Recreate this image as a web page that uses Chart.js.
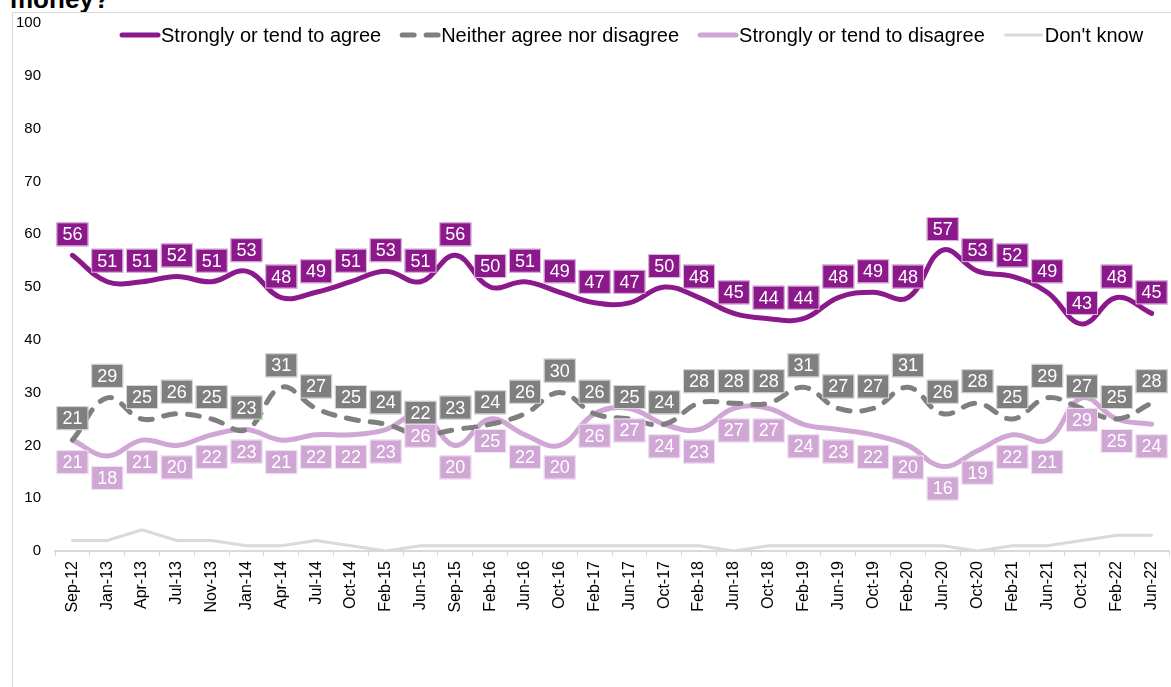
<!DOCTYPE html>
<html><head><meta charset="utf-8">
<script src="https://cdn.jsdelivr.net/npm/chart.js@4.4.1/dist/chart.umd.min.js"></script>
<style>
html,body{margin:0;padding:0;background:#fff;width:1171px;height:687px;overflow:hidden;}
#title{position:absolute;left:10px;top:-14px;font:bold 26px "Liberation Sans",Arial,sans-serif;line-height:26px;white-space:nowrap;color:#000;}
#frame{position:absolute;left:12px;top:12px;width:1200px;height:700px;border:1px solid #d9d9d9;}
#wrap{position:absolute;left:0;top:0;width:1171px;height:687px;}
</style></head>
<body>
<div id="title">money?</div>
<div id="frame"></div>
<div id="wrap"><canvas id="c" width="1171" height="687"></canvas></div>
<script>
const categories = ['Sep-12','Jan-13','Apr-13','Jul-13','Nov-13','Jan-14','Apr-14','Jul-14','Oct-14','Feb-15','Jun-15','Sep-15','Feb-16','Jun-16','Oct-16','Feb-17','Jun-17','Oct-17','Feb-18','Jun-18','Oct-18','Feb-19','Jun-19','Oct-19','Feb-20','Jun-20','Oct-20','Feb-21','Jun-21','Oct-21','Feb-22','Jun-22'];
const agree    = [56,51,51,52,51,53,48,49,51,53,51,56,50,51,49,47,47,50,48,45,44,44,48,49,48,57,53,52,49,43,48,45];
const neither  = [21,29,25,26,25,23,31,27,25,24,22,23,24,26,30,26,25,24,28,28,28,31,27,27,31,26,28,25,29,27,25,28];
const disagree = [21,18,21,20,22,23,21,22,22,23,26,20,25,22,20,26,27,24,23,27,27,24,23,22,20,16,19,22,21,29,25,24];
const dontKnow = [2,2,4,2,2,1,1,2,1,0,1,1,1,1,1,1,1,1,1,0,1,1,1,1,1,1,0,1,1,2,3,3];
const seriesNames = ['Strongly or tend to agree','Neither agree nor disagree','Strongly or tend to disagree',"Don't know"];
const yMin = 0, yMax = 100, yStep = 10;

const FONT = '"Liberation Sans", Arial, sans-serif';
const C_AGREE = '#8c198c', C_NEITHER = '#7f7f7f', C_DIS = '#cfa6d4', C_DK = '#d9d9d9';

const boxLabels = {
  id: 'boxLabels',
  afterDatasetsDraw(chart) {
    const ctx = chart.ctx;
    chart.data.datasets.forEach((ds, di) => {
      if (!ds.boxLabel) return;
      const meta = chart.getDatasetMeta(di);
      ctx.save();
      ctx.font = '18px ' + FONT;
      ctx.textAlign = 'center';
      ctx.textBaseline = 'middle';
      meta.data.forEach((pt, i) => {
        const txt = String(ds.data[i]);
        const w = ctx.measureText(txt).width + 12;
        const h = 24;
        const cx = pt.x, cy = pt.y + ds.boxLabel.dy;
        ctx.fillStyle = ds.boxLabel.bg;
        ctx.fillRect(cx - w / 2, cy - h / 2, w, h);
        ctx.lineWidth = 1;
        ctx.strokeStyle = 'rgba(255,255,255,0.7)';
        ctx.strokeRect(cx - w / 2 + 0.5, cy - h / 2 + 0.5, w - 1, h - 1);
        ctx.fillStyle = '#fff';
        ctx.fillText(txt, cx, cy + 1);
      });
      ctx.restore();
    });
  }
};

const lineLegend = {
  id: 'lineLegend',
  afterDraw(chart) {
    const ctx = chart.ctx;
    ctx.save();
    ctx.font = '20px ' + FONT;
    ctx.textBaseline = 'middle';
    ctx.textAlign = 'left';
    let x = 119;
    const y = 35;
    chart.data.datasets.forEach(ds => {
      ctx.beginPath();
      ctx.setLineDash(ds.borderDash || []);
      ctx.lineWidth = ds.borderWidth;
      ctx.strokeStyle = ds.borderColor;
      ctx.lineCap = 'round';
      ctx.moveTo(x + 3, y);
      ctx.lineTo(x + 39, y);
      ctx.stroke();
      ctx.setLineDash([]);
      ctx.fillStyle = '#000';
      ctx.fillText(ds.label, x + 42, y + 1);
      x += 42 + ctx.measureText(ds.label).width + 18;
    });
    ctx.restore();
  }
};

new Chart(document.getElementById('c'), {
  type: 'line',
  data: {
    labels: categories,
    datasets: [
      { label: seriesNames[0], data: agree, borderColor: C_AGREE, backgroundColor: C_AGREE, borderWidth: 5, tension: 0.4, pointRadius: 0, borderCapStyle: 'round', fill: false, boxLabel: { bg: C_AGREE, dy: -21 } },
      { label: seriesNames[1], data: neither, borderColor: C_NEITHER, backgroundColor: C_NEITHER, borderWidth: 5, borderDash: [12, 12], tension: 0.4, pointRadius: 0, borderCapStyle: 'round', fill: false, boxLabel: { bg: C_NEITHER, dy: -22 } },
      { label: seriesNames[2], data: disagree, borderColor: C_DIS, backgroundColor: C_DIS, borderWidth: 5, tension: 0.4, pointRadius: 0, borderCapStyle: 'round', fill: false, boxLabel: { bg: C_DIS, dy: 22 } },
      { label: seriesNames[3], data: dontKnow, borderColor: C_DK, backgroundColor: C_DK, borderWidth: 3, tension: 0, pointRadius: 0, borderCapStyle: 'round', fill: false }
    ]
  },
  options: {
    responsive: false,
    animation: false,
    layout: { padding: { top: 21, right: 2, left: 0, bottom: 0 } },
    plugins: { legend: { display: false }, tooltip: { enabled: false }, title: { display: false } },
    scales: {
      x: {
        offset: true,
        grid: { offset: true, drawOnChartArea: false, drawTicks: true, tickLength: 5, color: '#d9d9d9', lineWidth: 1 },
        border: { display: true, color: '#d9d9d9', width: 2 },
        ticks: { maxRotation: 90, minRotation: 90, autoSkip: false, padding: 5, color: '#000', font: { size: 16, family: FONT } },
        afterFit(s) { s.height = 136; s.paddingLeft = 0; s.paddingRight = 0; }
      },
      y: {
        min: yMin, max: yMax,
        ticks: { stepSize: yStep, padding: 14, color: '#000', font: { size: 15, family: FONT } },
        grid: { display: false, drawTicks: false },
        border: { display: false },
        afterFit(s) { s.width = 55; }
      }
    }
  },
  plugins: [boxLabels, lineLegend]
});
</script>
</body></html>
